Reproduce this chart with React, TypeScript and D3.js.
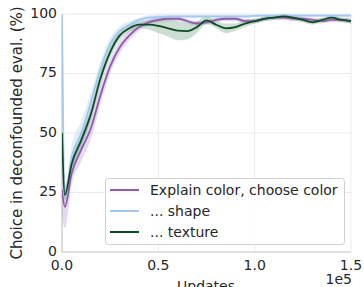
import React from "react";
import * as d3 from "d3";

const xs = [0, 0.015, 0.05, 0.1, 0.15, 0.2, 0.25, 0.3, 0.35, 0.4, 0.45, 0.5, 0.55, 0.6, 0.65, 0.7, 0.75, 0.8, 0.85, 0.9, 0.95, 1.0, 1.05, 1.1, 1.15, 1.2, 1.25, 1.3, 1.35, 1.4, 1.45, 1.5];

const purpleMean = [26, 19, 33, 43, 52, 66, 78, 86, 91, 94.5, 96.5, 97.5, 98, 98, 97, 96, 96.5, 97.5, 98, 98, 97, 97, 98, 98.5, 98.5, 98, 98, 97.5, 97, 97.5, 97.5, 97];
const purpleStd = [11, 9, 5, 5, 4.5, 4, 3, 2.5, 2, 1.5, 1.2, 1, 1, 1, 1, 1, 1, 1, 1, 1, 1, 1, 1, 1, 1, 1, 1, 1, 1, 1, 1, 1];

const blueMean = [100, 23, 40, 50, 63, 77, 87.5, 93, 95.5, 97.5, 98.5, 98.7, 99, 99, 99, 99, 99, 99, 99, 99, 99, 99.2, 99.3, 99.3, 99.3, 99.3, 99.3, 99.3, 99.3, 99.3, 99.3, 99.3];
const blueStd = [0, 5, 5, 5, 4, 3, 2.5, 2, 1.5, 1, 1, 1, 0.8, 0.8, 0.8, 0.8, 0.8, 0.8, 0.8, 0.8, 0.8, 0.6, 0.6, 0.6, 0.6, 0.6, 0.6, 0.6, 0.6, 0.6, 0.6, 0.6];

const greenMean = [50, 24, 37, 47, 58, 73, 84, 91, 94, 95.5, 95.5, 95, 94, 93, 92.8, 94.5, 97.3, 95.5, 94, 94.5, 96, 97, 98, 98.5, 99, 98.5, 97.5, 96.5, 97.5, 98.5, 97.5, 97];
const greenStd = [0, 2, 3, 3, 3, 3, 2.5, 2, 1.5, 1.5, 2, 3, 3.5, 4, 3.5, 2.5, 1.5, 1.5, 2, 1.5, 1.5, 1, 1, 1, 1, 1, 1, 1, 1, 1, 1, 1];

const seriesNames = ["Explain color, choose color", "... shape", "... texture"];
const lineColors = ["#8f5aa8", "#a3c8ef", "#0b4a26"];
const bandColors = ["#9467bd", "#8fbbe8", "#2e7d46"];

const xTicks = [0, 0.5, 1.0, 1.5];
const yTicks = [0, 25, 50, 75, 100];

export default function App() {
  const W = 364, H = 287;
  const left = 62, right = 351, top = 14, bottom = 252;
  const x = d3.scaleLinear().domain([0, 1.5]).range([left, right]);
  const y = d3.scaleLinear().domain([0, 100]).range([bottom, top]);

  const series = [
    { mean: purpleMean, std: purpleStd },
    { mean: blueMean, std: blueStd },
    { mean: greenMean, std: greenStd },
  ];

  const line = d3.line<number>().x((_, i) => x(xs[i])).y((d) => y(d)).curve(d3.curveMonotoneX);
  const band = (m: number[], s: number[]) =>
    d3
      .area<number>()
      .x((_, i) => x(xs[i]))
      .y0((d, i) => y(Math.max(0, d - s[i])))
      .y1((d, i) => y(Math.min(100, d + s[i])))
      .curve(d3.curveMonotoneX)(m) as string;

  const font = "DejaVu Sans, sans-serif";
  const tickColor = "#262626";

  return (
    <svg width={W} height={H} style={{ position: "absolute", left: 0, top: 0 }} fontFamily={font}>
      <rect x={0} y={0} width={W} height={H} fill="#fff" />
      {xTicks.map((t) => (
        <line key={"gx" + t} x1={x(t)} x2={x(t)} y1={top} y2={bottom} stroke="#ebebeb" strokeWidth={1} />
      ))}
      {yTicks.map((t) => (
        <line key={"gy" + t} x1={left} x2={right} y1={y(t)} y2={y(t)} stroke="#ebebeb" strokeWidth={1} />
      ))}
      <line x1={left} x2={left} y1={top} y2={bottom} stroke="#cccccc" strokeWidth={1.2} />
      <line x1={left} x2={right} y1={bottom} y2={bottom} stroke="#cccccc" strokeWidth={1.2} />
      <defs>
        <clipPath id="plot">
          <rect x={left} y={top - 2} width={right - left + 2} height={bottom - top + 2} />
        </clipPath>
      </defs>
      <g clipPath="url(#plot)">
        {series.map((s, i) => (
          <path key={"b" + i} d={band(s.mean, s.std)} fill={bandColors[i]} fillOpacity={0.25} stroke="none" />
        ))}
        {series.map((s, i) => (
          <path key={"l" + i} d={line(s.mean) as string} fill="none" stroke={lineColors[i]} strokeWidth={1.8} />
        ))}
      </g>
      {yTicks.map((t) => (
        <text key={"ty" + t} x={left - 5} y={y(t) - 1} dy="0.35em" textAnchor="end" fontSize={14} fill={tickColor}>
          {t}
        </text>
      ))}
      {xTicks.map((t) => (
        <text key={"tx" + t} x={x(t)} y={bottom + 18} textAnchor="middle" fontSize={14} fill={tickColor}>
          {t.toFixed(1)}
        </text>
      ))}
      <text x={206} y={H + 4} textAnchor="middle" fontSize={14} fill={tickColor}>Updates</text>
      <text x={352} y={H - 3} textAnchor="end" fontSize={14} fill={tickColor}>1e5</text>
      <text
        transform={`translate(${22},${133}) rotate(-90)`}
        textAnchor="middle"
        fontSize={15}
        fill={tickColor}
      >
        Choice in deconfounded eval. (%)
      </text>
      <g>
        <rect x={105.5} y={178.5} width={239} height={66} rx={3} fill="#fff" fillOpacity={0.85} stroke="#d0d0d0" />
        {seriesNames.map((n, i) => (
          <g key={"lg" + i}>
            <line x1={110} x2={139} y1={190 + i * 21} y2={190 + i * 21} stroke={lineColors[i]} strokeWidth={2} />
            <text x={150} y={190 + i * 21} dy="0.35em" fontSize={14} fill={tickColor}>{n}</text>
          </g>
        ))}
      </g>
    </svg>
  );
}
